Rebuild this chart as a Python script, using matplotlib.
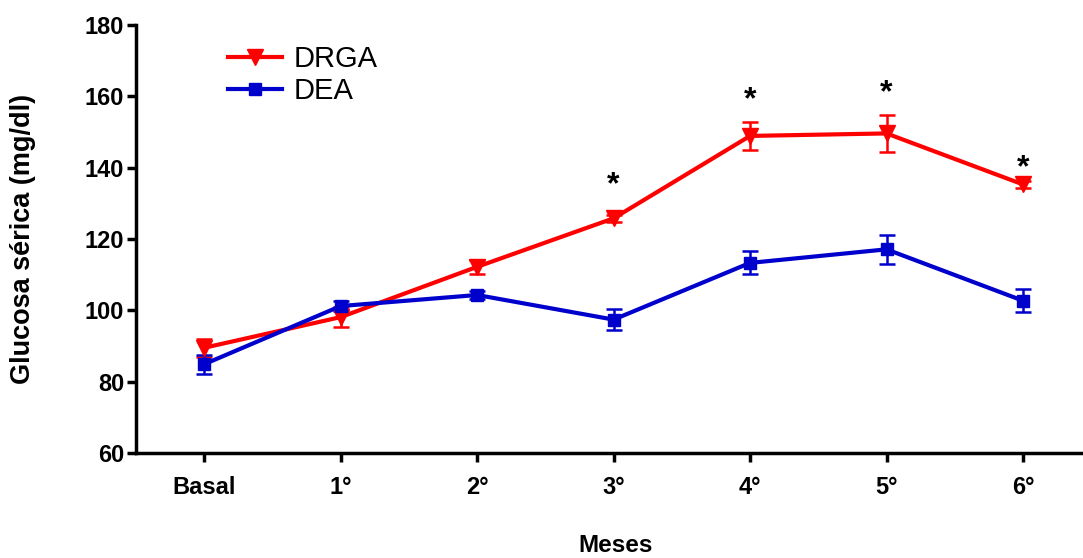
import matplotlib
matplotlib.use('Agg')
import matplotlib.pyplot as plt

plt.rcParams['font.family'] = ['Liberation Sans', 'DejaVu Sans']

# data
meses = ['Basal', '1°', '2°', '3°', '4°', '5°', '6°']
drga = [89.5, 98.1, 112.2, 125.8, 148.9, 149.6, 135.3]
drga_err = [2.5, 2.8, 2.0, 1.0, 4.0, 5.3, 1.0]
dea = [84.9, 101.2, 104.3, 97.4, 113.3, 117.1, 102.7]
dea_err = [2.7, 1.5, 1.0, 3.0, 3.2, 4.1, 3.2]

# significance marks
star_pos = [3, 4, 5, 6]
star_y = [135.2, 159.0, 161.0, 139.8]

x = list(range(len(meses)))

fig = plt.figure(figsize=(10.83, 5.58), dpi=100)
ax = fig.add_axes([136 / 1083, 105 / 558, 947 / 1083, 428 / 558])

red = '#FF0000'
blue = '#0000CC'

# error bars first, then the lines with markers (these go in the legend)
ax.errorbar(x, drga, yerr=drga_err, fmt='none', ecolor=red,
            elinewidth=1.8, capsize=6, capthick=1.8)
ax.errorbar(x, dea, yerr=dea_err, fmt='none', ecolor=blue,
            elinewidth=1.8, capsize=6, capthick=1.8)
ax.plot(x, drga, color=red, marker='v', markersize=11, linewidth=3, label='DRGA')
ax.plot(x, dea, color=blue, marker='s', markersize=9, linewidth=3, label='DEA')

for px, py in zip(star_pos, star_y):
    ax.text(px, py, '*', ha='center', va='center', fontsize=23, fontweight='bold')

ax.set_xlim(-0.5, 6.44)
ax.set_ylim(60, 180)
ax.set_yticks(range(60, 181, 20))
ax.set_xticks(x)
ax.set_xticklabels(meses)

for s in ['top', 'right']:
    ax.spines[s].set_visible(False)
for s in ['left', 'bottom']:
    ax.spines[s].set_linewidth(2.5)

ax.tick_params(axis='both', direction='out', length=6.5, width=2.5, labelsize=17)
ax.tick_params(axis='x', pad=10)
ax.tick_params(axis='y', pad=2)
for lab in ax.get_xticklabels() + ax.get_yticklabels():
    lab.set_fontweight('bold')

ax.set_ylabel('Glucosa sérica (mg/dl)', fontsize=19.5, fontweight='bold')
ax.yaxis.set_label_coords(-0.106, 0.5)
ax.set_xlabel('Meses', fontsize=17.5, fontweight='bold')
ax.xaxis.set_label_coords(0.506, -0.19)

leg = ax.legend(loc='upper left', bbox_to_anchor=((228 - 136) / 947, 0.953),
                frameon=False, fontsize=21, borderpad=0, borderaxespad=0,
                handlelength=1.85, handletextpad=0.4, labelspacing=0.15)

fig.savefig('out.png', dpi=100)
